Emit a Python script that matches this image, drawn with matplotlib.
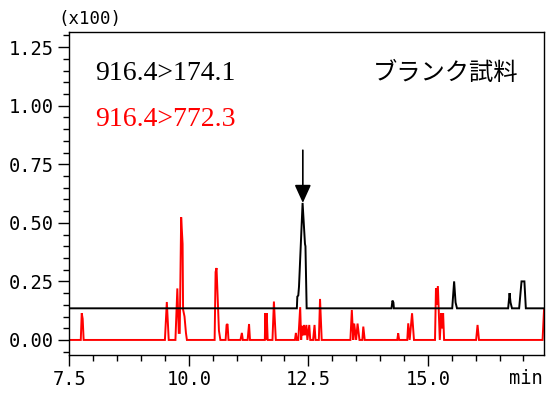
import matplotlib
matplotlib.use("Agg")
import matplotlib.pyplot as plt
from matplotlib.ticker import MultipleLocator

# ---- data ----
black_t = [7.50, 12.26, 12.27, 12.29, 12.305, 12.38, 12.43, 12.44, 12.465,
           14.24, 14.26, 14.28, 14.29,
           15.51, 15.55, 15.58, 15.61,
           16.68, 16.71, 16.73, 16.76,
           16.91, 16.96, 17.02, 17.05, 17.43]
black_y = [0.135, 0.135, 0.185, 0.19, 0.228, 0.585, 0.41, 0.40, 0.135,
           0.135, 0.168, 0.16, 0.135,
           0.135, 0.25, 0.16, 0.135,
           0.135, 0.20, 0.16, 0.135,
           0.135, 0.25, 0.25, 0.135, 0.135]

red_t = [7.50, 7.74, 7.76, 7.78, 7.80,
         9.50, 9.54, 9.58,
         9.72, 9.76, 9.79, 9.81, 9.84, 9.87, 9.88, 9.91, 9.94, 9.96,
         10.54, 10.56, 10.58, 10.63, 10.66,
         10.77, 10.79, 10.81, 10.83,
         11.08, 11.11, 11.13,
         11.23, 11.26, 11.28,
         11.59, 11.60, 11.62, 11.63, 11.65,
         11.75, 11.78, 11.82,
         12.22, 12.24, 12.26,
         12.29, 12.33, 12.35, 12.37, 12.39, 12.41, 12.43, 12.46, 12.48, 12.52, 12.54,
         12.60, 12.63, 12.65,
         12.72, 12.745, 12.78,
         13.38, 13.41, 13.44, 13.46, 13.50, 13.53, 13.57,
         13.63, 13.65, 13.68,
         14.36, 14.38, 14.40,
         14.57, 14.59, 14.62, 14.67, 14.71,
         15.15, 15.17, 15.18, 15.21, 15.25, 15.28, 15.30, 15.32, 15.34,
         16.01, 16.04, 16.07,
         17.40, 17.43]
red_y = [0.0, 0.0, 0.114, 0.09, 0.0,
         0.0, 0.162, 0.0,
         0.0, 0.22, 0.03, 0.03, 0.524, 0.41, 0.13, 0.10, 0.03, 0.0,
         0.0, 0.29, 0.307, 0.04, 0.0,
         0.0, 0.064, 0.068, 0.0,
         0.0, 0.03, 0.0,
         0.0, 0.068, 0.0,
         0.0, 0.114, 0.0, 0.114, 0.0,
         0.0, 0.164, 0.0,
         0.0, 0.03, 0.0,
         0.0, 0.14, 0.0, 0.06, 0.02, 0.064, 0.02, 0.064, 0.0, 0.064, 0.0,
         0.0, 0.064, 0.0,
         0.0, 0.175, 0.0,
         0.0, 0.128, 0.0, 0.07, 0.0, 0.07, 0.0,
         0.0, 0.057, 0.0,
         0.0, 0.028, 0.0,
         0.0, 0.071, 0.0, 0.114, 0.0,
         0.0, 0.22, 0.15, 0.23, 0.0, 0.114, 0.05, 0.114, 0.0,
         0.0, 0.064, 0.0,
         0.0, 0.128]

yticks = [0.0, 0.25, 0.50, 0.75, 1.00, 1.25]
ytick_labels = ["0.00", "0.25", "0.50", "0.75", "1.00", "1.25"]
xticks = [7.5, 10.0, 12.5, 15.0]
xtick_labels = ["7.5", "10.0", "12.5", "15.0"]
arrow_t = 12.385
arrow_top = 0.81
arrow_tip = 0.585

W, H = 547, 394
fig = plt.figure(figsize=(W / 100, H / 100), dpi=100)
ax = fig.add_axes([69.3 / W, 1 - 354.7 / H, (544 - 69.3) / W, (354.7 - 31.7) / H])

ax.plot(red_t, red_y, color="#ff0000", lw=1.4, solid_joinstyle="miter")
ax.plot(black_t, black_y, color="black", lw=1.4, solid_joinstyle="miter")

ax.annotate("", xy=(arrow_t, arrow_tip), xytext=(arrow_t, arrow_top),
            arrowprops=dict(arrowstyle="-|>,head_length=1.1,head_width=0.5",
                            mutation_scale=10, color="black", lw=1.2,
                            shrinkA=0, shrinkB=0))

ax.set_xlim(7.5, 17.43)
ax.set_ylim(-0.063, 1.316)
mono = "DejaVu Sans Mono"
ax.set_yticks(yticks)
ax.set_yticklabels(ytick_labels, fontfamily=mono, fontsize=13.5)
ax.set_xticks(xticks)
ax.set_xticklabels(xtick_labels, fontfamily=mono, fontsize=13.5)
ax.yaxis.set_minor_locator(MultipleLocator(0.05))
ax.xaxis.set_minor_locator(MultipleLocator(0.5))
ax.tick_params(which="major", direction="out", length=8, width=1.0, pad=3)
ax.tick_params(which="minor", direction="out", length=4.3, width=1.0)
ax.tick_params(top=False, right=False, which="both")
for s in ax.spines.values():
    s.set_linewidth(1.0)

fig.text(90 / W, 1 - 19 / H, "(x100)", fontfamily=mono, fontsize=12.5,
         ha="center", va="center")
fig.text(543 / W, 1 - 384 / H, "min", fontfamily=mono, fontsize=13.5,
         ha="right", va="baseline")

fig.text(95 / W, 1 - 80 / H, "916.4>174.1", fontfamily="Liberation Serif",
         fontsize=20, color="black", ha="left", va="baseline")
fig.text(95 / W, 1 - 126 / H, "916.4>772.3", fontfamily="Liberation Serif",
         fontsize=20, color="#ff0000", ha="left", va="baseline")
fig.text(518 / W, 1 - 80 / H, "ブランク試料",
         fontfamily=["Noto Sans CJK JP", "DejaVu Sans"], fontsize=17.5,
         color="black", ha="right", va="baseline")

fig.savefig("out.png", dpi=100)
